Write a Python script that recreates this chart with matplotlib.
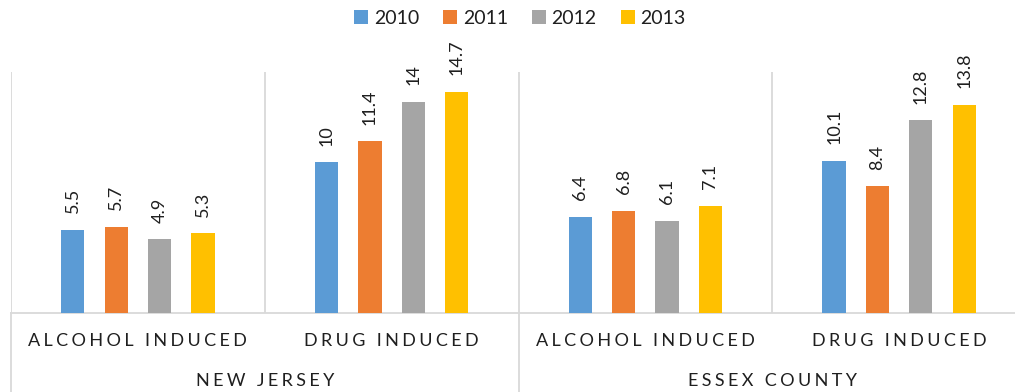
import matplotlib
matplotlib.use("Agg")
import matplotlib.pyplot as plt
import matplotlib.transforms as mtransforms
from matplotlib.lines import Line2D
import numpy as np

plt.rcParams['font.family'] = ['Lato', 'DejaVu Sans']

# Data
regions = ["NEW JERSEY", "ESSEX COUNTY"]
causes = ["ALCOHOL INDUCED", "DRUG INDUCED"]
years = ["2010", "2011", "2012", "2013"]
values_2010 = [5.5, 10, 6.4, 10.1]
values_2011 = [5.7, 11.4, 6.8, 8.4]
values_2012 = [4.9, 14, 6.1, 12.8]
values_2013 = [5.3, 14.7, 7.1, 13.8]
series = [values_2010, values_2011, values_2012, values_2013]
colors = ["#5B9BD5", "#ED7D31", "#A5A5A5", "#FFC000"]
grid_color = "#D9D9D9"
text_color = "#1F1F1F"

W, H = 1015, 392
fig = plt.figure(figsize=(W / 100, H / 100), dpi=100)
left_px, right_px, top_px, base_px = 11, 1026, 72, 313
ax = fig.add_axes([left_px / W, (H - base_px) / H,
                   (right_px - left_px) / W, (base_px - top_px) / H])

n_cat = len(regions) * len(causes)
x = np.arange(n_cat)
spacing = 0.171
bar_w = 0.092
offsets = (np.arange(len(years)) - 1.5) * spacing

GAP = "\u2009\u200a"


def spaced(s):
    # widen letter tracking with thin + hair spaces
    words = s.split(" ")
    return (GAP + " " + GAP).join(GAP.join(w) for w in words)


for i, (yr, vals, c) in enumerate(zip(years, series, colors)):
    bars = ax.bar(x + offsets[i], vals, width=bar_w, color=c, label=yr, zorder=3)
    for b, v in zip(bars, vals):
        ax.annotate(f"{v:g}", (b.get_x() + b.get_width() / 2, v),
                    xytext=(0, 12), textcoords="offset points",
                    rotation=90, ha="center", va="bottom",
                    fontsize=13, color=text_color)

ax.set_xlim(-0.5, n_cat - 0.5)
ax.set_ylim(0, 16)
ax.set_xticks([])
ax.set_yticks([])
for s in ["top", "right", "left"]:
    ax.spines[s].set_visible(False)
ax.spines["bottom"].set_color(grid_color)
ax.spines["bottom"].set_linewidth(1.3)

# category separators inside plot area
for b in np.arange(-0.5, n_cat, 1.0):
    ax.axvline(b, color=grid_color, lw=1.3, zorder=1)

# separators extending below axis between regions
trans = mtransforms.blended_transform_factory(ax.transData, fig.transFigure)
for b in np.arange(-0.5, n_cat, len(causes)):
    ax.add_line(Line2D([b, b], [0, (H - base_px) / H], transform=trans,
                       color=grid_color, lw=1.3, clip_on=False))

# category labels
for k in range(n_cat):
    ax.text(k, (H - 341) / H, spaced(causes[k % len(causes)]), transform=trans,
            ha="center", va="center", fontsize=13, color=text_color)
for r, name in enumerate(regions):
    cx = r * len(causes) + (len(causes) - 1) / 2
    ax.text(cx, (H - 381) / H, spaced(name), transform=trans,
            ha="center", va="center", fontsize=13, color=text_color)

fig.legend(loc="center", bbox_to_anchor=(520 / W, 1 - 18 / H), ncol=4,
           frameon=False, fontsize=14, handlelength=0.7, handleheight=0.7,
           handletextpad=0.3, columnspacing=1.25, labelcolor=text_color)

fig.savefig("out.png", dpi=100)
